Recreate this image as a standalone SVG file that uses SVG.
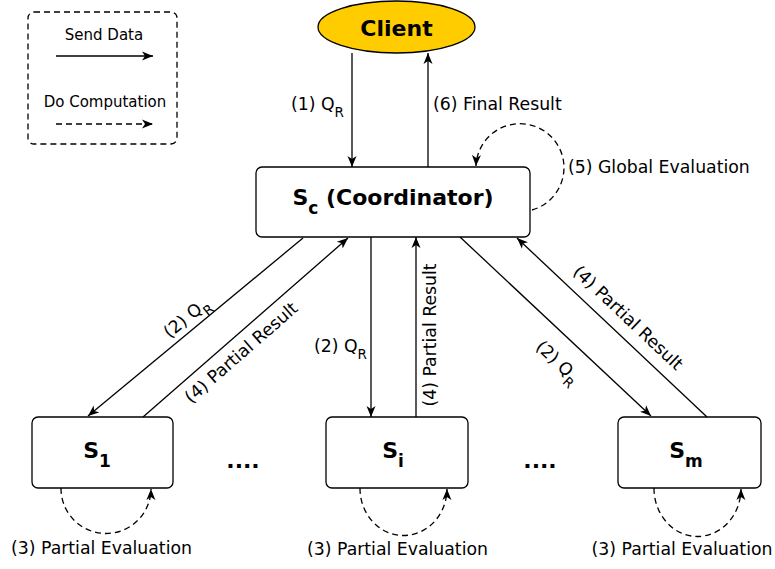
<svg xmlns="http://www.w3.org/2000/svg" width="775" height="569" viewBox="0 0 775 569">
  <defs>
    <marker id="arrow" markerUnits="userSpaceOnUse" markerWidth="12" markerHeight="10" refX="11" refY="5" orient="auto">
      <path d="M0,0.5 L11,5 L0,9.5 L3,5 Z" fill="#000"/>
    </marker>
    <style>
      text { font-family: "DejaVu Sans", "Liberation Sans", sans-serif; fill: #000; }
      .lbl { font-size: 17.3px; }
      .leg { font-size: 15px; }
      .bold { font-weight: bold; font-size: 22px; }
      .sub { font-size: 13.5px; }
      .bsub { font-size: 17px; font-weight: bold; }
      .box { fill: #fff; stroke: #000; stroke-width: 1.3; }
      .edge { fill: none; stroke: #000; stroke-width: 1.3; marker-end: url(#arrow); }
      .comp { fill: none; stroke: #000; stroke-width: 1.3; stroke-dasharray: 6 4; marker-end: url(#arrow); }
    </style>
  </defs>
  <rect width="775" height="569" fill="#fff"/>

  <!-- legend -->
  <g id="legend">
    <rect x="28" y="12" width="149" height="132" rx="6" fill="none" stroke="#000" stroke-width="1.3" stroke-dasharray="6 4"/>
    <text class="leg" x="104" y="40" text-anchor="middle">Send Data</text>
    <line class="edge" x1="56" y1="56" x2="153" y2="56"/>
    <text class="leg" x="105" y="107" text-anchor="middle">Do Computation</text>
    <line class="comp" x1="56" y1="124" x2="153" y2="124"/>
  </g>

  <!-- nodes -->
  <g id="client">
    <ellipse cx="396.5" cy="27" rx="78.5" ry="26" fill="#FFCC00" stroke="#000" stroke-width="1.3"/>
    <text class="bold" x="396.5" y="36" text-anchor="middle">Client</text>
  </g>
  <g id="coordinator">
    <rect class="box" x="256" y="167" width="274" height="70" rx="6"/>
    <text class="bold" x="393" y="205" text-anchor="middle">S<tspan class="bsub" dy="9">c</tspan><tspan dy="-9"> (Coordinator)</tspan></text>
  </g>
  <g id="s1">
    <rect class="box" x="32" y="417" width="141" height="71" rx="6"/>
    <text class="bold" x="97" y="458" text-anchor="middle">S<tspan class="bsub" dy="9">1</tspan></text>
  </g>
  <g id="si">
    <rect class="box" x="326" y="417" width="142" height="71" rx="6"/>
    <text class="bold" x="393" y="458" text-anchor="middle">S<tspan class="bsub" dy="9">i</tspan></text>
  </g>
  <g id="sm">
    <rect class="box" x="618" y="417" width="143" height="71" rx="6"/>
    <text class="bold" x="686" y="458" text-anchor="middle">S<tspan class="bsub" dy="9">m</tspan></text>
  </g>
  <g id="ellipsis">
    <text class="bold" x="243" y="468" text-anchor="middle">....</text>
    <text class="bold" x="540" y="468" text-anchor="middle">....</text>
  </g>

  <!-- connectors -->
  <g id="connectors">
    <line class="edge" x1="352" y1="53" x2="352" y2="167"/>
    <line class="edge" x1="428" y1="167" x2="428" y2="53"/>
    <path class="comp" d="M532,210 A44,44 0 1 0 476,166"/>

    <line class="edge" x1="303" y1="238" x2="88" y2="416"/>
    <line class="edge" x1="143" y1="417" x2="348" y2="238"/>
    <line class="edge" x1="371" y1="237" x2="371" y2="417"/>
    <line class="edge" x1="416" y1="417" x2="416" y2="237"/>
    <line class="edge" x1="460" y1="237" x2="651" y2="416"/>
    <line class="edge" x1="707" y1="417" x2="517" y2="238"/>

    <path class="comp" d="M61,488 A45,45 0 0 0 151,489"/>
    <path class="comp" d="M360,488 A43.5,47 0 0 0 447,489"/>
    <path class="comp" d="M654,488 A43.5,48 0 0 0 741,489"/>
  </g>

  <!-- connector labels -->
  <g id="labels">
    <text class="lbl" x="291" y="110">(1) Q<tspan class="sub" dy="7">R</tspan></text>
    <text class="lbl" x="433" y="110">(6) Final Result</text>
    <text class="lbl" x="568" y="173">(5) Global Evaluation</text>

    <text class="lbl" text-anchor="middle" transform="translate(190,322) rotate(-39.3)">(2) Q<tspan class="sub" dy="7">R</tspan></text>
    <text class="lbl" text-anchor="middle" transform="translate(245,357) rotate(-41.1)">(4) Partial Result</text>
    <text class="lbl" x="314" y="352">(2) Q<tspan class="sub" dy="7">R</tspan></text>
    <text class="lbl" text-anchor="middle" transform="translate(436,335) rotate(-90)">(4) Partial Result</text>
    <text class="lbl" text-anchor="middle" transform="translate(554,366) rotate(43.1)">(2) Q<tspan class="sub" dy="7">R</tspan></text>
    <text class="lbl" text-anchor="middle" transform="translate(624,322) rotate(43.3)">(4) Partial Result</text>

    <text class="lbl" x="101.5" y="554" text-anchor="middle">(3) Partial Evaluation</text>
    <text class="lbl" x="397.5" y="555" text-anchor="middle">(3) Partial Evaluation</text>
    <text class="lbl" x="682" y="555" text-anchor="middle">(3) Partial Evaluation</text>
  </g>
</svg>
